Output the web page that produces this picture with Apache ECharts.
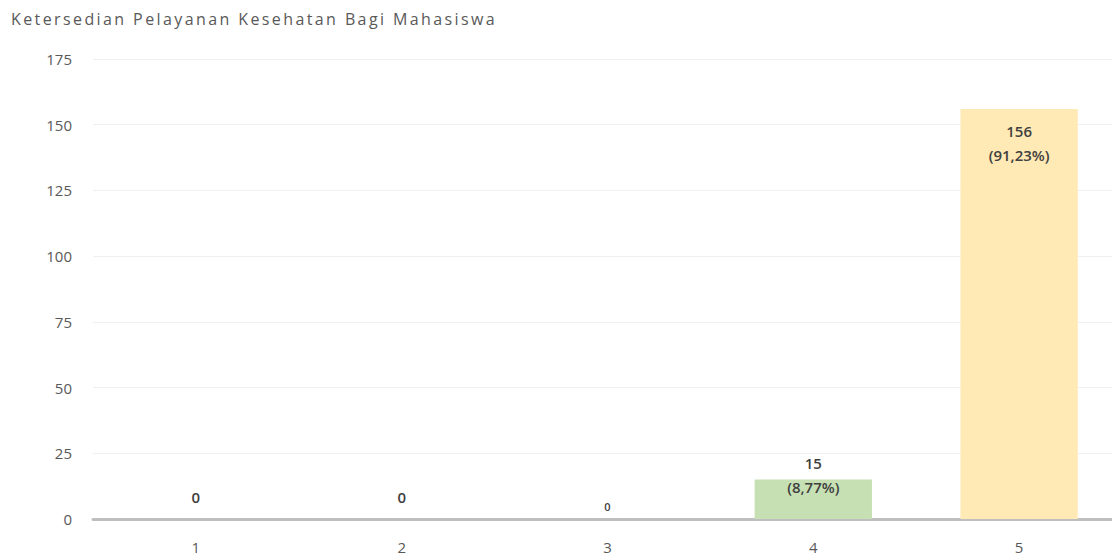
<!DOCTYPE html>
<html>
<head>
<meta charset="utf-8">
<script src="https://cdn.jsdelivr.net/npm/echarts@6/dist/echarts.min.js"></script>
<style>
html,body{margin:0;padding:0;background:#fff;}
#main{width:1112px;height:556px;}
</style>
</head>
<body>
<div id="main"></div>
<script>
const titleText = 'Ketersedian Pelayanan Kesehatan Bagi Mahasiswa';
const categories = ['1', '2', '3', '4', '5'];
const counts = [0, 0, 0, 15, 156];
const percentLabels = ['', '', '', '(8,77%)', '(91,23%)'];
const barColors = ['#c6e0b4', '#c6e0b4', '#c6e0b4', '#c6e0b4', '#ffe9b5'];
const yTicks = { min: 0, max: 175, interval: 25 };

const labelBase = {
  show: true,
  color: '#404040',
  fontFamily: '"Open Sans", sans-serif',
  fontWeight: 600,
  fontSize: 15,
  lineHeight: 24
};

const labelConfigs = [
  { position: 'top', distance: 10 },
  { position: 'top', distance: 10 },
  { position: 'top', distance: 6, fontSize: 11, lineHeight: 14 },
  { position: 'top', distance: -19 },
  { position: 'insideTop', distance: 10 }
];

const seriesData = counts.map((v, i) => ({
  value: v,
  itemStyle: { color: barColors[i] },
  label: Object.assign({}, labelBase, labelConfigs[i], {
    formatter: percentLabels[i] ? v + '\n' + percentLabels[i] : String(v)
  })
}));

const chart = echarts.init(document.getElementById('main'), null, { renderer: 'svg' });
chart.setOption({
  animation: false,
  backgroundColor: '#ffffff',
  title: {
    text: titleText,
    left: 6,
    top: 6,
    textStyle: {
      fontFamily: '"Open Sans", sans-serif',
      fontSize: 16,
      fontWeight: 'normal',
      color: '#595959'
    }
  },
  grid: { left: 93, width: 1029, top: 59, bottom: 37, containLabel: false, outerBoundsMode: 'none' },
  xAxis: {
    type: 'category',
    data: categories,
    axisLine: { lineStyle: { color: '#bfbfbf', width: 3 } },
    axisTick: { show: false },
    axisLabel: { color: '#595959', fontSize: 15, fontFamily: '"Open Sans", sans-serif', margin: 20 }
  },
  yAxis: {
    type: 'value',
    min: yTicks.min,
    max: yTicks.max,
    interval: yTicks.interval,
    axisLine: { show: false },
    axisTick: { show: false },
    splitLine: { lineStyle: { color: '#f0f0f0', width: 1 } },
    axisLabel: { color: '#595959', fontSize: 15, fontFamily: '"Open Sans", sans-serif', margin: 21 }
  },
  series: [{
    type: 'bar',
    data: seriesData,
    barCategoryGap: '43%'
  }]
});

function spaceTitle() {
  document.querySelectorAll('#main svg text').forEach(t => {
    if (t.textContent === titleText) t.setAttribute('letter-spacing', '2.4px');
  });
}
chart.on('finished', spaceTitle);
spaceTitle();
</script>
</body>
</html>
